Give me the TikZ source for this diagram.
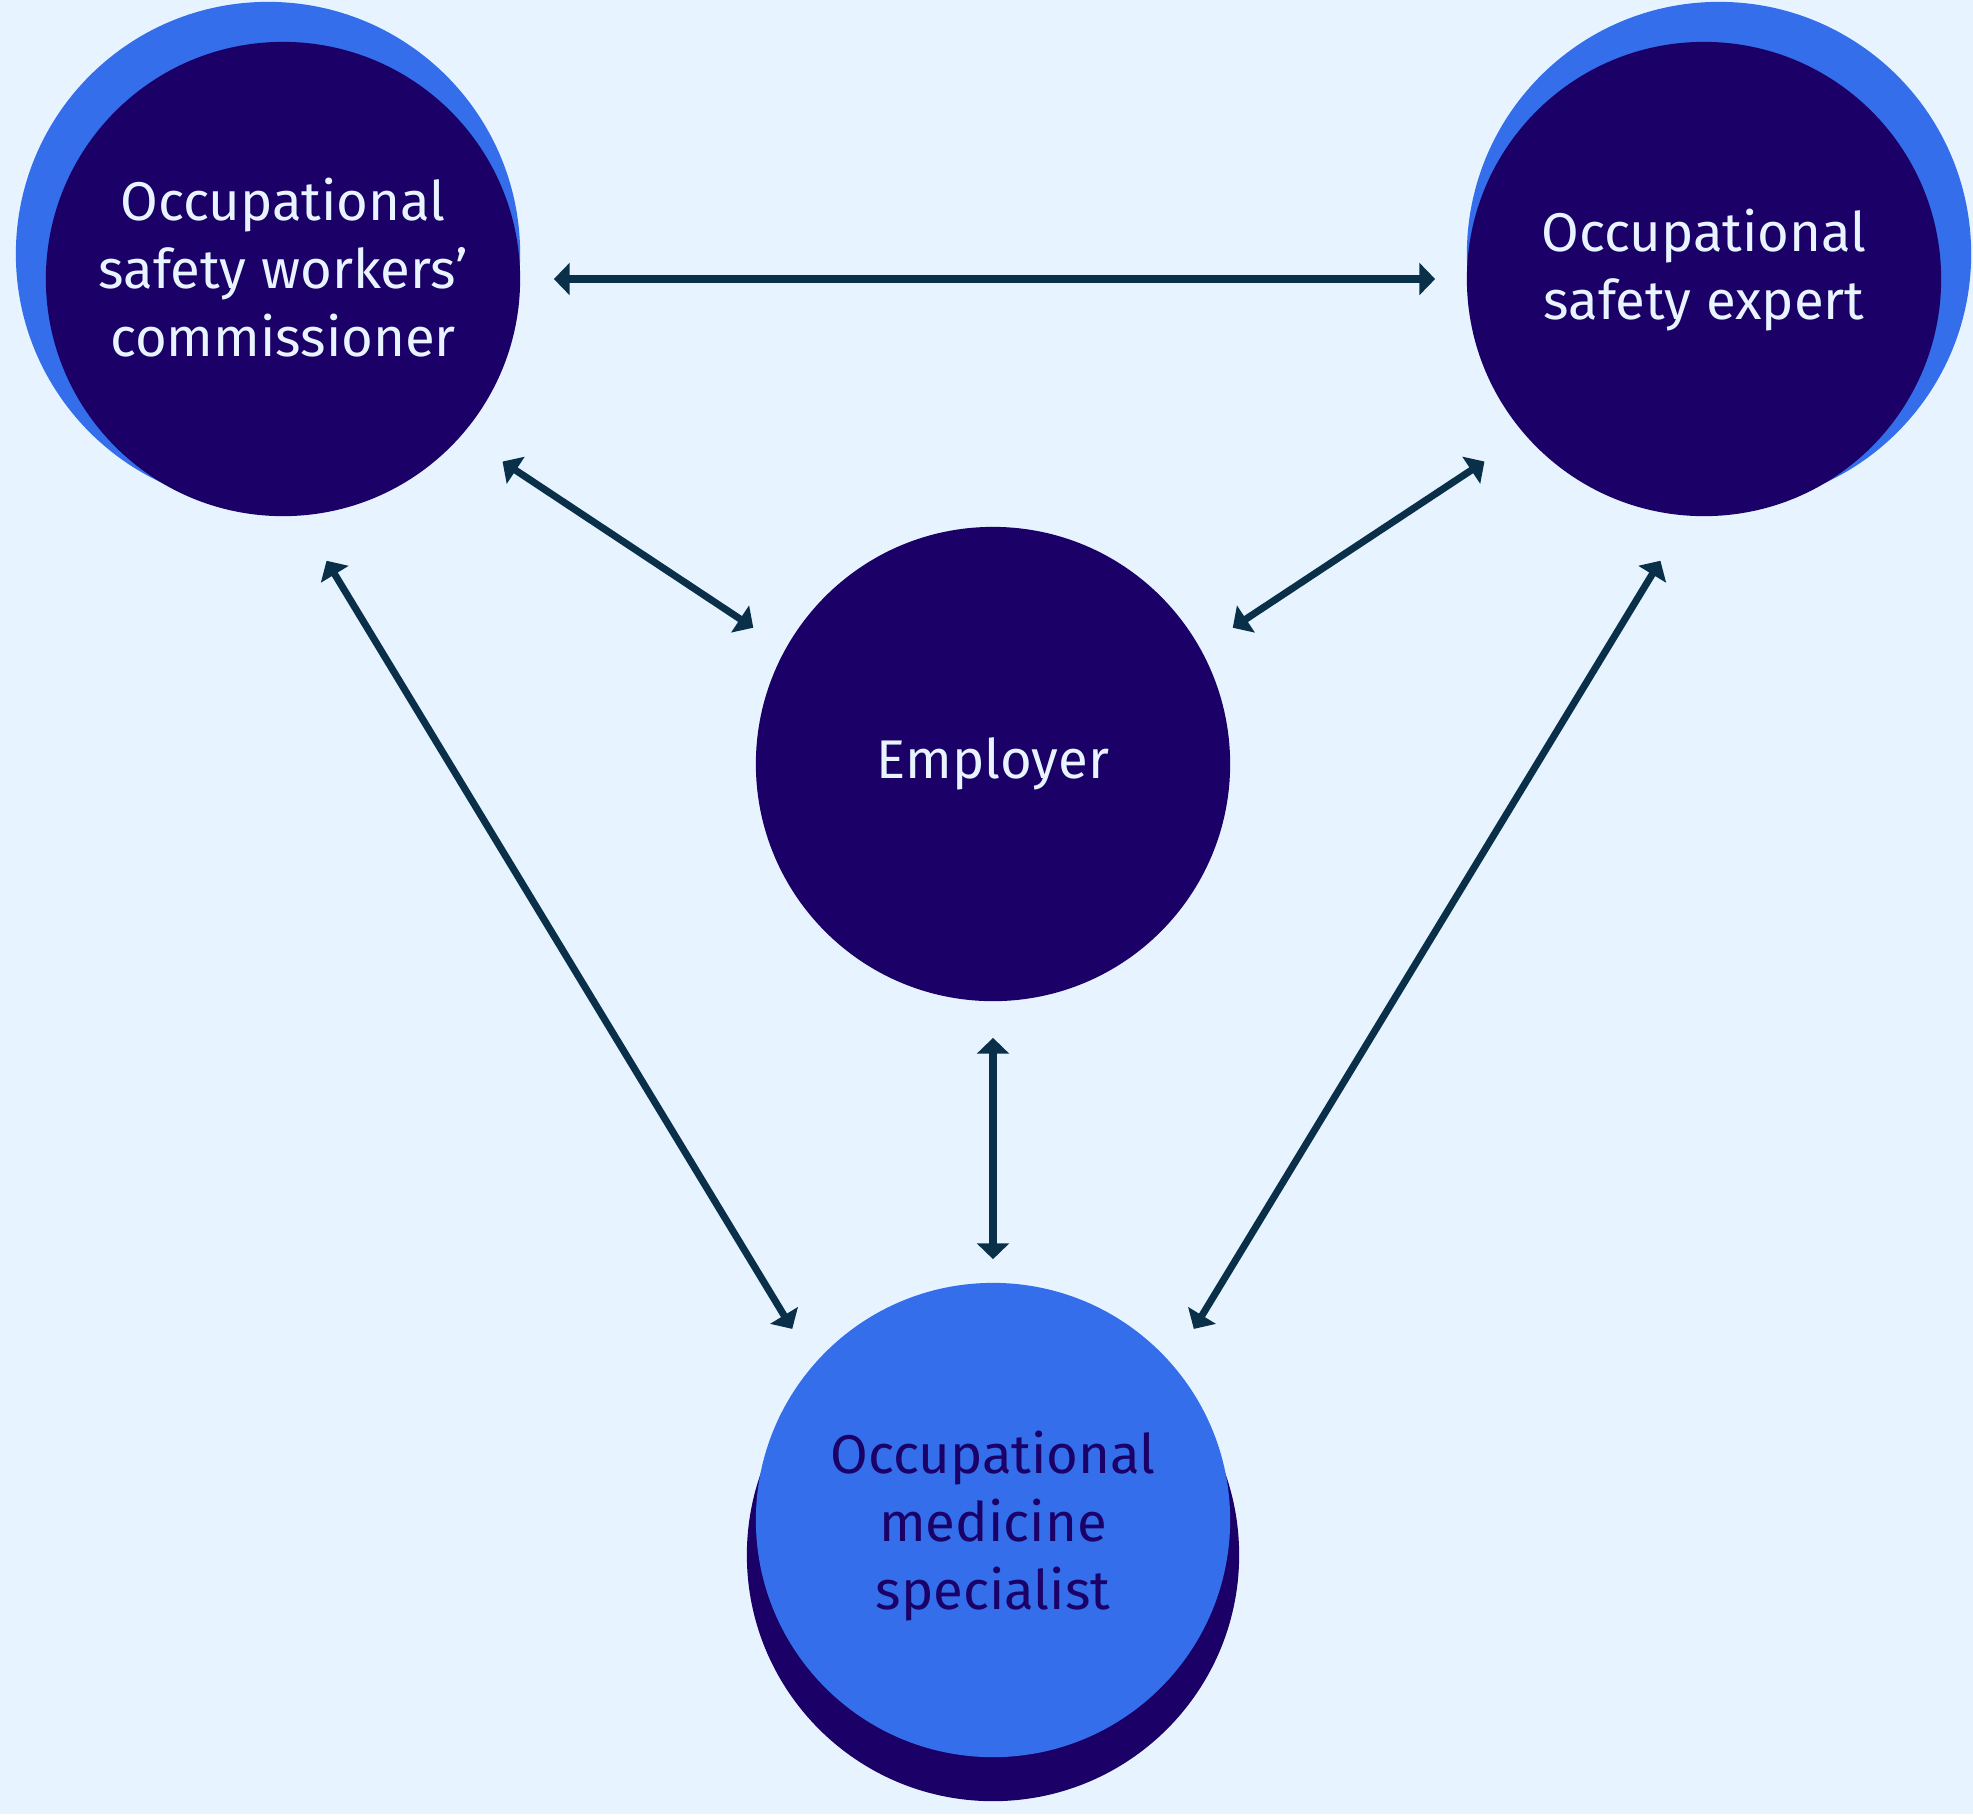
\documentclass[tikz,border=0pt]{standalone}
\usepackage{fontspec}
\setmainfont{Fira Sans}
\usetikzlibrary{arrows.meta}
\definecolor{bgblue}{HTML}{E7F4FF}
\definecolor{darkrole}{HTML}{1B0068}
\definecolor{brightrole}{HTML}{346EEA}
\definecolor{linkcol}{HTML}{0A3049}
\definecolor{paletext}{HTML}{E8F4FF}

\begin{document}
\begin{tikzpicture}[
  x=0.01cm, y=-0.01cm,
  font=\fontsize{15.5pt}{19.4pt}\selectfont,
  role/.style={circle, fill=darkrole, text=paletext, minimum size=4.74cm,
               inner sep=0pt, align=center},
  halo/.style={circle, fill=brightrole, inner sep=0pt},
  link/.style={{Triangle[width=9pt,length=4.5pt]}-{Triangle[width=9pt,length=4.5pt]},
               line width=2pt, draw=linkcol}
]
  \fill[bgblue] (0,0) rectangle (1973,1814);
  \useasboundingbox (0,0) rectangle (1973,1814);
  % discs behind the roles
  \node[halo, minimum size=5.04cm] (cwback) at (268,254) {};
  \node[halo, minimum size=5.04cm] (seback) at (1719,254) {};
  \node[halo, fill=darkrole, minimum size=4.92cm] (msback) at (993,1555) {};
  % roles
  \node[role, text depth=0.23cm] (cw) at (283,279)
       {Occupational\\ safety workers’\\ commissioner};
  \node[role, text depth=0.3cm] (se) at (1704,279) {Occupational\\ safety expert};
  \node[role] (em) at (993,764) {Employer};
  \node[role, fill=brightrole, text=darkrole, text depth=0pt] (ms) at (993,1520)
       {Occupational\\ medicine\\ specialist};
  % links
  \draw[link, shorten <=0.33cm, shorten >=0.31cm] (cw.east) -- (se.west);
  \draw[link, shorten <=0.48cm, shorten >=0.38cm] (cw.319) -- (em.151);
  \draw[link, shorten <=0.48cm, shorten >=0.38cm] (se.221) -- (em.29);
  \draw[link, shorten <=0.52cm, shorten >=0.41cm] (cw.274) -- (ms.139);
  \draw[link, shorten <=0.52cm, shorten >=0.41cm] (se.266) -- (ms.41);
  \draw[link, shorten <=0.36cm, shorten >=0.23cm] (em.south) -- (ms.north);
\end{tikzpicture}
\end{document}
